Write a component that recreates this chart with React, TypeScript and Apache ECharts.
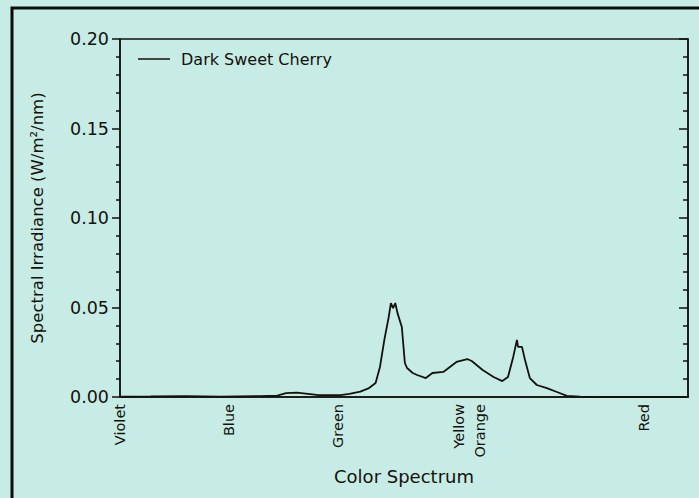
import React, { useEffect, useRef } from "react";
import * as echarts from "echarts";

const wavelengths = [
  400, 414, 430, 446, 464, 472, 476, 481, 486, 491, 501, 505, 510, 514, 517, 519, 521, 523, 524, 525,
  526, 527, 529, 530.4, 531.4, 534, 536, 540, 543, 548, 551, 554, 559, 561, 566, 571, 575, 577.6, 580,
  581.7, 582.2, 584, 585.4, 587.6, 590.8, 595.4, 600, 604.6, 610.5, 629, 660,
];
const irradiance = [
  0.0002, 0.0003, 0.0005, 0.0002, 0.0005, 0.0008, 0.0022, 0.0024, 0.0018, 0.001, 0.001, 0.0017, 0.003,
  0.005, 0.0078, 0.0168, 0.0319, 0.0447, 0.0525, 0.0497, 0.0525, 0.047, 0.0391, 0.019, 0.0162, 0.0134,
  0.0123, 0.0106, 0.0134, 0.014, 0.0168, 0.0196, 0.0212, 0.0201, 0.0151, 0.0112, 0.0089, 0.0112, 0.0224,
  0.0319, 0.028, 0.028, 0.0207, 0.0106, 0.0067, 0.005, 0.0028, 0.0006, 0.0002, 0, 0,
];
const colorTicks = [400, 450, 500, 560, 640];
const colorNames = ["Violet", "Blue", "Green", "Yellow\nOrange", "Red"];
const seriesName = "Dark Sweet Cherry";

const FONT = "DejaVu Sans";
const INK = "#15110c";

export default function App() {
  const ref = useRef<HTMLDivElement>(null);
  useEffect(() => {
    if (!ref.current) return;
    const chart = echarts.init(ref.current, null, { renderer: "svg" });
    const data = wavelengths.map((w, i) => [w, irradiance[i]]);
    chart.setOption({
      animation: false,
      backgroundColor: "#c7ece5",
      grid: {
        left: 120,
        top: 39,
        right: 11,
        bottom: 101,
        show: true,
        borderColor: INK,
        borderWidth: 1.5,
        backgroundColor: "transparent",
      },
      legend: {
        left: 133,
        top: 46,
        itemWidth: 32,
        itemHeight: 1.5,
        itemGap: 10,
        icon: "rect",
        data: [{ name: seriesName, itemStyle: { color: INK } }],
        textStyle: { fontFamily: FONT, fontSize: 16, color: INK, padding: [0, 0, 0, 6] },
      },
      xAxis: {
        type: "value",
        min: 400,
        max: 660,
        interval: 10,
        name: "Color Spectrum",
        nameLocation: "middle",
        nameGap: 70,
        nameTextStyle: { fontFamily: FONT, fontSize: 18, color: INK },
        axisLine: { show: true, lineStyle: { color: INK, width: 1.5 } },
        axisTick: { show: false },
        splitLine: { show: false },
        axisLabel: {
          rotate: 90,
          margin: 7,
          fontFamily: FONT,
          fontSize: 14.5,
          color: INK,
          lineHeight: 21,
          showMinLabel: true,
          showMaxLabel: true,
          formatter: (v: number) => {
            const i = colorTicks.indexOf(Math.round(v));
            return i >= 0 ? colorNames[i] : "";
          },
        },
      },
      yAxis: [
        {
          type: "value",
          min: 0,
          max: 0.2,
          interval: 0.05,
          name: "Spectral Irradiance (W/m²/nm)",
          nameLocation: "middle",
          nameGap: 74,
          nameTextStyle: { fontFamily: FONT, fontSize: 16.5, color: INK },
          axisLine: { show: true, lineStyle: { color: INK, width: 1.5 } },
          axisTick: { show: true, length: 8, lineStyle: { color: INK, width: 1.5 } },
          minorTick: { show: true, splitNumber: 5, length: 4, lineStyle: { color: INK, width: 1.5 } },
          splitLine: { show: false },
          axisLabel: {
            margin: 11,
            fontFamily: FONT,
            fontSize: 17.5,
            color: INK,
            formatter: (v: number) => v.toFixed(2),
          },
        },
        {
          type: "value",
          position: "right",
          min: 0,
          max: 0.2,
          interval: 0.05,
          axisLine: { show: true, lineStyle: { color: INK, width: 1.5 } },
          axisTick: { show: true, inside: true, length: 9, lineStyle: { color: INK, width: 1.5 } },
          minorTick: { show: true, splitNumber: 5, length: 5, lineStyle: { color: INK, width: 1.5 } },
          splitLine: { show: false },
          axisLabel: { show: false },
        },
      ],
      series: [
        {
          name: seriesName,
          type: "line",
          data,
          symbol: "none",
          smooth: false,
          lineStyle: { color: INK, width: 1.8 },
          itemStyle: { color: INK },
        },
      ],
      graphic: [
        {
          type: "polyline",
          silent: true,
          shape: { points: [[12, 498], [12, 8], [699, 8]] },
          style: { stroke: "#0d0a07", lineWidth: 3, fill: null },
        },
      ],
    });
    return () => chart.dispose();
  }, []);
  return <div ref={ref} style={{ width: 699, height: 498, position: "absolute", left: 0, top: 0 }} />;
}
